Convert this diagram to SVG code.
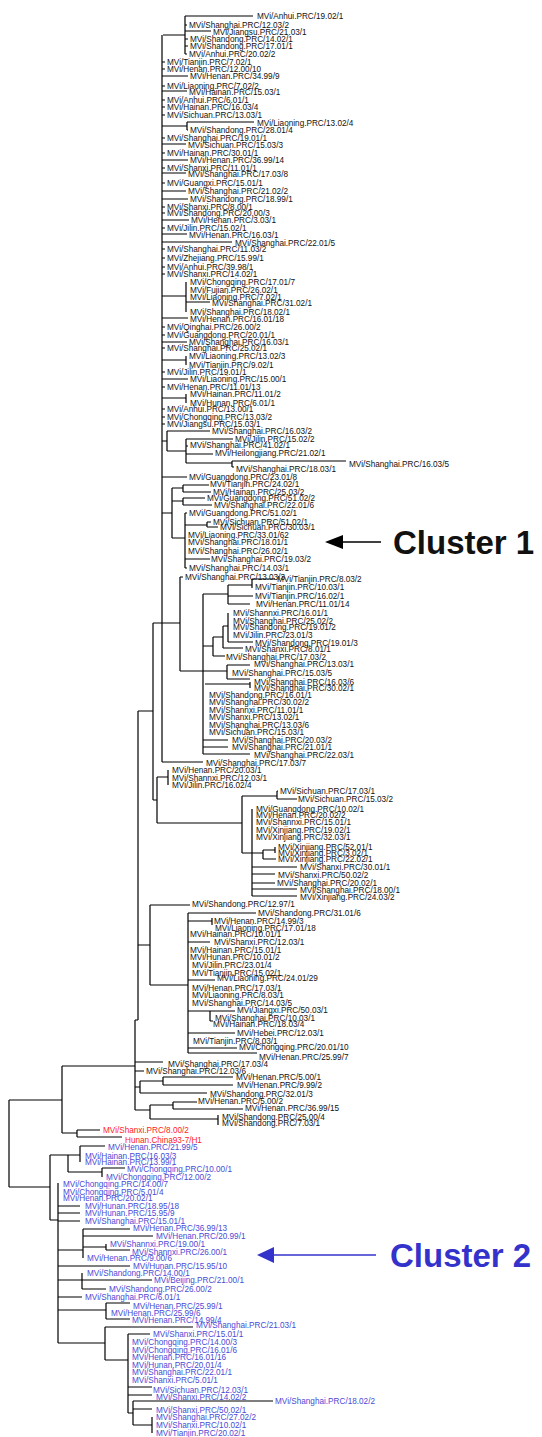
<svg xmlns="http://www.w3.org/2000/svg" width="542" height="1437" viewBox="0 0 542 1437">
<style>
text{font-family:"Liberation Sans",Arial,sans-serif;font-size:8.2px;fill:#111}
.r{fill:#ff1a1a}
.b{fill:#4a4ad6}
.c{stroke:#000;stroke-width:1.2;fill:none}
.cl{font-size:33px;font-weight:bold}
</style>
<rect width="542" height="1437" fill="#fff"/>
<g id="connectors" class="c">
<path d="M185 16V54M163 35H185M185 16H253M185 25H187M185 31H211M185 39H188M185 46H188M185 54H187"/>
<path d="M162 35V762M162 62H165M162 69H165M162 86H165M162 100H165M162 107H165M162 115H165M162 138H165M162 153H165M162 168H165M162 183H165M162 207H165M162 213H165M162 228H165M162 249H165M162 258H165M162 267H165M162 274H165M162 327H165M162 335H165M162 348H165M162 372H165M162 387H165M162 409H165M162 417H165M162 424H165"/>
<path d="M162 76H188M162 91H187M162 144H186M162 160H188M162 173H186M162 191H186M162 199H188M162 220H189M162 234H187M162 242H232M162 318H188M162 342H187M162 379H188M162 477H187"/>
<path d="M162 126H187M187 122V130M187 122H254M187 130H188M162 296H186M186 282V312M186 302H210M162 360H186M186 356V365M162 398H186M186 394V403"/>
<path d="M162 441H167M167 431V451M167 431H210M167 451H186M186 439V463M186 439H233M186 446H188M186 454H213M186 463H232M232 461V467M232 461H346M232 467H234"/>
<path d="M183 485V492M183 485H209M183 492H211M183 498V505M183 498H205M183 505H212M172 488V538M172 488H183M172 501H183M172 538H185M185 513V568M185 513H187M185 525H207M207 522V527M207 522H211M207 527H218M185 559H210M185 568H187M162 513H172"/>
<path d="M162 623H180M180 577V671M180 577H183M180 671H227M203 594V754M203 594H228M228 585V604M228 585H252M252 579V588M252 579H275M228 596H253M228 604H250M203 646H213M213 637V656M213 637H223M223 626V648M223 626H228M228 613V642M228 642H253M223 648H243M213 656H225M227 665V679M227 665H250M227 679H250M205 684H250M250 682V688M203 740H228M203 747H228M203 754H250M162 762H203"/>
<path d="M153 623V800M153 623H162M153 800H157M157 777V823M157 777H168M168 770V785M157 823H242M242 796V853M242 796H277M277 791V799M277 791H278M277 799H297M242 853H252M252 809V896M252 853H263M263 850V859M263 850H275M275 847V853M263 859H276M252 867H297M252 874H275M252 883H275M252 889H297M252 896H297"/>
<path d="M138 711V1020M138 711H153M138 945H150M150 905V985M150 905H190M150 985H188M188 913V1053M188 913H256M188 921H212M212 918V925M188 942H210M188 980H215M188 1011H210M210 1011V1021M210 1011H235M210 1021H213M188 1033H235M188 1048H237M188 1053H257"/>
<path d="M135 1020V1110M135 1020H138M135 1062H163M135 1071H144M135 1087H140M140 1081V1093M140 1081H163M163 1077V1085M163 1077H233M163 1085H233M140 1093H207M135 1110H150M150 1105V1119M150 1105H173M173 1102V1109M173 1102H197M173 1109H243M150 1119H218M218 1115V1125"/>
<path d="M62 1066V1133M62 1066H135M62 1133H77M77 1130V1137M77 1130H100M77 1137H122M9 1100V1187M9 1100H62M9 1187H50"/>
<path d="M50 1155V1220M50 1155H68M68 1155V1172M68 1155H80M80 1146V1162M80 1146H105M68 1172H102M102 1168V1177M102 1168H125M50 1220H58M58 1183V1343M58 1206H80M58 1213H80M58 1221H80M58 1250H83M83 1229V1258M83 1229H130M83 1236H153M83 1247H106M106 1244V1250M106 1250H130M58 1266H130M58 1280H82M82 1273V1289M82 1280H152M82 1289H106M58 1297H82M58 1310H106M106 1303V1319M106 1303H130M106 1319H130M58 1343H105M105 1327V1360M105 1327H193M105 1360H128M128 1334V1413M128 1334H150M128 1387H152M128 1395H152M128 1413H133M133 1401V1425M133 1401H273M133 1409H152M133 1425H152M152 1417V1433"/>
</g>
<g id="cluster1">
<path d="M342 542H381" stroke="#000" stroke-width="1.5"/>
<polygon points="325,542 343,535 343,549" fill="#000"/>
<text class="cl" x="393" y="554">Cluster 1</text>
</g>
<g id="cluster2">
<path d="M273 1255H376" stroke="#3333cc" stroke-width="1.5"/>
<polygon points="257,1255 274,1247 274,1263" fill="#3333cc"/>
<text class="cl" x="390" y="1267" style="fill:#3333cc">Cluster 2</text>
</g>
<g id="leaves">
<g id="n1"><text x="257" y="19">MVi/Anhui.PRC/19.02/1</text></g>
<g id="n2"><text x="189" y="28">MVi/Shanghai.PRC/12.03/2</text></g>
<g id="n3"><text x="213" y="35">MVi/Jiangsu.PRC/21.03/1</text></g>
<g id="n4"><text x="190" y="42">MVi/Shandong.PRC/14.02/1</text></g>
<g id="n5"><text x="190" y="49">MVi/Shandong.PRC/17.01/1</text></g>
<g id="n6"><text x="189" y="57">MVi/Anhui.PRC/20.02/2</text></g>
<g id="n7"><text x="167" y="65">MVi/Tianjin.PRC/7.02/1</text></g>
<g id="n8"><text x="167" y="72">MVi/Henan.PRC/12.00/10</text></g>
<g id="n9"><text x="190" y="79">MVi/Henan.PRC/34.99/9</text></g>
<g id="n10"><text x="167" y="89">MVi/Liaoning.PRC/7.02/2</text></g>
<g id="n11"><text x="189" y="95">MVi/Hainan.PRC/15.03/1</text></g>
<g id="n12"><text x="167" y="103">MVi/Anhui.PRC/6.01/1</text></g>
<g id="n13"><text x="167" y="110">MVi/Hainan.PRC/16.03/4</text></g>
<g id="n14"><text x="167" y="118">MVi/Sichuan.PRC/13.03/1</text></g>
<g id="n15"><text x="257" y="126">MVi/Liaoning.PRC/13.02/4</text></g>
<g id="n16"><text x="190" y="133">MVi/Shandong.PRC/28.01/4</text></g>
<g id="n17"><text x="167" y="141">MVi/Shanghai.PRC/19.01/1</text></g>
<g id="n18"><text x="188" y="148">MVi/Sichuan.PRC/15.03/3</text></g>
<g id="n19"><text x="167" y="156">MVi/Hainan.PRC/30.01/1</text></g>
<g id="n20"><text x="190" y="163">MVi/Henan.PRC/36.99/14</text></g>
<g id="n21"><text x="167" y="171">MVi/Shanxi.PRC/11.01/1</text></g>
<g id="n22"><text x="188" y="177">MVi/Shanghai.PRC/17.03/8</text></g>
<g id="n23"><text x="167" y="186">MVi/Guangxi.PRC/15.01/1</text></g>
<g id="n24"><text x="188" y="194">MVi/Shanghai.PRC/21.02/2</text></g>
<g id="n25"><text x="190" y="202">MVi/Shandong.PRC/18.99/1</text></g>
<g id="n26"><text x="167" y="210">MVi/Shanxi.PRC/8.00/1</text></g>
<g id="n27"><text x="167" y="216">MVi/Shandong.PRC/20.00/3</text></g>
<g id="n28"><text x="191" y="223">MVi/Henan.PRC/3.03/1</text></g>
<g id="n29"><text x="167" y="231">MVi/Jilin.PRC/15.02/1</text></g>
<g id="n30"><text x="189" y="238">MVi/Henan.PRC/16.03/1</text></g>
<g id="n31"><text x="235" y="246">MVi/Shanghai.PRC/22.01/5</text></g>
<g id="n32"><text x="167" y="252">MVi/Shanghai.PRC/11.03/2</text></g>
<g id="n33"><text x="167" y="261">MVi/Zhejiang.PRC/15.99/1</text></g>
<g id="n34"><text x="167" y="270">MVi/Anhui.PRC/39.98/1</text></g>
<g id="n35"><text x="167" y="277">MVi/Shanxi.PRC/14.02/1</text></g>
<g id="n36"><text x="190" y="285">MVi/Chongqing.PRC/17.01/7</text></g>
<g id="n37"><text x="190" y="293">MVi/Fujian.PRC/26.02/1</text></g>
<g id="n38"><text x="190" y="300">MVi/Liaoning.PRC/7.02/1</text></g>
<g id="n39"><text x="212" y="306">MVi/Shanghai.PRC/31.02/1</text></g>
<g id="n40"><text x="190" y="315">MVi/Shanghai.PRC/18.02/1</text></g>
<g id="n41"><text x="190" y="322">MVi/Henan.PRC/16.01/18</text></g>
<g id="n42"><text x="167" y="330">MVi/Qinghai.PRC/26.00/2</text></g>
<g id="n43"><text x="167" y="338">MVi/Guangdong.PRC/20.01/1</text></g>
<g id="n44"><text x="189" y="345">MVi/Shanghai.PRC/16.03/1</text></g>
<g id="n45"><text x="167" y="351">MVi/Shanghai.PRC/25.02/1</text></g>
<g id="n46"><text x="189" y="359">MVi/Liaoning.PRC/13.02/3</text></g>
<g id="n47"><text x="189" y="368">MVi/Tianjin.PRC/9.02/1</text></g>
<g id="n48"><text x="167" y="375">MVi/Jilin.PRC/19.01/1</text></g>
<g id="n49"><text x="190" y="382">MVi/Liaoning.PRC/15.00/1</text></g>
<g id="n50"><text x="167" y="390">MVi/Henan.PRC/11.01/13</text></g>
<g id="n51"><text x="190" y="397">MVi/Hainan.PRC/11.01/2</text></g>
<g id="n52"><text x="190" y="406">MVi/Hunan.PRC/6.01/1</text></g>
<g id="n53"><text x="167" y="412">MVi/Anhui.PRC/13.00/1</text></g>
<g id="n54"><text x="167" y="420">MVi/Chongqing.PRC/13.03/2</text></g>
<g id="n55"><text x="167" y="427">MVi/Jiangsu.PRC/15.03/1</text></g>
<g id="n56"><text x="212" y="434">MVi/Shanghai.PRC/16.03/2</text></g>
<g id="n57"><text x="235" y="442">MVi/Jilin.PRC/15.02/2</text></g>
<g id="n58"><text x="190" y="448">MVi/Shanghai.PRC/41.02/1</text></g>
<g id="n59"><text x="215" y="456">MVi/Heilongjiang.PRC/21.02/1</text></g>
<g id="n60"><text x="349" y="467">MVi/Shanghai.PRC/16.03/5</text></g>
<g id="n61"><text x="236" y="472">MVi/Shanghai.PRC/18.03/1</text></g>
<g id="n62"><text x="189" y="480">MVi/Guangdong.PRC/23.01/8</text></g>
<g id="n63"><text x="210" y="487">MVi/Tianjin.PRC/24.02/1</text></g>
<g id="n64"><text x="213" y="495">MVi/Hainan.PRC/25.03/2</text></g>
<g id="n65"><text x="207" y="501">MVi/Guangdong.PRC/51.02/2</text></g>
<g id="n66"><text x="214" y="508">MVi/Shanghai.PRC/22.01/6</text></g>
<g id="n67"><text x="189" y="516">MVi/Guangdong.PRC/51.02/1</text></g>
<g id="n68"><text x="213" y="525">MVi/Sichuan.PRC/51.02/1</text></g>
<g id="n69"><text x="220" y="530">MVi/Sichuan.PRC/30.03/1</text></g>
<g id="n70"><text x="188" y="538">MVi/Liaoning.PRC/33.01/62</text></g>
<g id="n71"><text x="188" y="545">MVi/Shanghai.PRC/18.01/1</text></g>
<g id="n72"><text x="188" y="554">MVi/Shanghai.PRC/26.02/1</text></g>
<g id="n73"><text x="211" y="562">MVi/Shanghai.PRC/19.03/2</text></g>
<g id="n74"><text x="189" y="571">MVi/Shanghai.PRC/14.03/1</text></g>
<g id="n75"><text x="185" y="580">MVi/Shanghai.PRC/13.03/3</text></g>
<g id="n76"><text x="277" y="582">MVi/Tianjin.PRC/8.03/2</text></g>
<g id="n77"><text x="255" y="590">MVi/Tianjin.PRC/10.03/1</text></g>
<g id="n78"><text x="255" y="599">MVi/Tianjin.PRC/16.02/1</text></g>
<g id="n79"><text x="256" y="607">MVi/Henan.PRC/11.01/14</text></g>
<g id="n80"><text x="233" y="616">MVi/Shannxi.PRC/16.01/1</text></g>
<g id="n81"><text x="233" y="624">MVi/Shanghai.PRC/25.02/2</text></g>
<g id="n82"><text x="233" y="630">MVi/Shandong.PRC/19.01/2</text></g>
<g id="n83"><text x="233" y="638">MVi/Jilin.PRC/23.01/3</text></g>
<g id="n84"><text x="255" y="646">MVi/Shandong.PRC/19.01/3</text></g>
<g id="n85"><text x="245" y="652">MVi/Shanxi.PRC/8.01/1</text></g>
<g id="n86"><text x="226" y="660">MVi/Shanghai.PRC/17.03/2</text></g>
<g id="n87"><text x="254" y="667">MVi/Shanghai.PRC/13.03/1</text></g>
<g id="n88"><text x="232" y="676">MVi/Shanghai.PRC/15.03/5</text></g>
<g id="n89"><text x="254" y="685">MVi/Shanghai.PRC/16.03/6</text></g>
<g id="n90"><text x="254" y="691">MVi/Shanghai.PRC/30.02/1</text></g>
<g id="n91"><text x="209" y="698">MVi/Shandong.PRC/16.01/1</text></g>
<g id="n92"><text x="209" y="705">MVi/Shanghai.PRC/30.02/2</text></g>
<g id="n93"><text x="209" y="713">MVi/Shannxi.PRC/11.01/1</text></g>
<g id="n94"><text x="209" y="720">MVi/Shanxi.PRC/13.02/1</text></g>
<g id="n95"><text x="209" y="728">MVi/Shanghai.PRC/13.03/6</text></g>
<g id="n96"><text x="209" y="735">MVi/Sichuan.PRC/15.03/1</text></g>
<g id="n97"><text x="232" y="743">MVi/Shanghai.PRC/20.03/2</text></g>
<g id="n98"><text x="232" y="750">MVi/Shanghai.PRC/21.01/1</text></g>
<g id="n99"><text x="254" y="758">MVi/Shanghai.PRC/22.03/1</text></g>
<g id="n100"><text x="206" y="766">MVi/Shanghai.PRC/17.03/7</text></g>
<g id="n101"><text x="172" y="773">MVi/Henan.PRC/20.03/1</text></g>
<g id="n102"><text x="172" y="781">MVi/Shannxi.PRC/12.03/1</text></g>
<g id="n103"><text x="172" y="788">MVi/Jilin.PRC/16.02/4</text></g>
<g id="n104"><text x="280" y="794">MVi/Sichuan.PRC/17.03/1</text></g>
<g id="n105"><text x="298" y="802">MVi/Sichuan.PRC/15.03/2</text></g>
<g id="n106"><text x="256" y="812">MVi/Guangdong.PRC/10.02/1</text></g>
<g id="n107"><text x="256" y="818">MVi/Henan.PRC/20.02/2</text></g>
<g id="n108"><text x="256" y="825">MVi/Shannxi.PRC/15.01/1</text></g>
<g id="n109"><text x="256" y="833">MVi/Xinjiang.PRC/19.02/1</text></g>
<g id="n110"><text x="256" y="840">MVi/Xinjiang.PRC/32.03/1</text></g>
<g id="n111"><text x="278" y="850">MVi/Xinjiang.PRC/52.01/1</text></g>
<g id="n112"><text x="278" y="856">MVi/Xinjiang.PRC/3.02/1</text></g>
<g id="n113"><text x="278" y="862">MVi/Xinjiang.PRC/22.02/1</text></g>
<g id="n114"><text x="300" y="870">MVi/Shanxi.PRC/30.01/1</text></g>
<g id="n115"><text x="278" y="878">MVi/Shanxi.PRC/50.02/2</text></g>
<g id="n116"><text x="277" y="886">MVi/Shanghai.PRC/20.02/1</text></g>
<g id="n117"><text x="300" y="893">MVi/Shanghai.PRC/18.00/1</text></g>
<g id="n118"><text x="300" y="900">MVi/Xinjiang.PRC/24.03/2</text></g>
<g id="n119"><text x="192" y="907">MVi/Shandong.PRC/12.97/1</text></g>
<g id="n120"><text x="258" y="916">MVi/Shandong.PRC/31.01/6</text></g>
<g id="n121"><text x="214" y="924">MVi/Henan.PRC/14.99/3</text></g>
<g id="n122"><text x="215" y="931">MVi/Liaoning.PRC/17.01/18</text></g>
<g id="n123"><text x="190" y="937">MVi/Hainan.PRC/10.01/1</text></g>
<g id="n124"><text x="214" y="945">MVi/Shanxi.PRC/12.03/1</text></g>
<g id="n125"><text x="190" y="953">MVi/Hainan.PRC/15.01/1</text></g>
<g id="n126"><text x="190" y="960">MVi/Hunan.PRC/10.01/2</text></g>
<g id="n127"><text x="192" y="968">MVi/Jilin.PRC/23.01/4</text></g>
<g id="n128"><text x="192" y="976">MVi/Tianjin.PRC/15.02/1</text></g>
<g id="n129"><text x="217" y="981">MVi/Liaoning.PRC/24.01/29</text></g>
<g id="n130"><text x="192" y="991">MVi/Henan.PRC/17.03/1</text></g>
<g id="n131"><text x="192" y="998">MVi/Liaoning.PRC/8.03/1</text></g>
<g id="n132"><text x="192" y="1006">MVi/Shanghai.PRC/14.03/5</text></g>
<g id="n133"><text x="237" y="1013">MVi/Jiangxi.PRC/50.03/1</text></g>
<g id="n134"><text x="215" y="1021">MVi/Shanghai.PRC/10.03/1</text></g>
<g id="n135"><text x="213" y="1027">MVi/Hainan.PRC/18.03/4</text></g>
<g id="n136"><text x="237" y="1036">MVi/Hebei.PRC/12.03/1</text></g>
<g id="n137"><text x="193" y="1044">MVi/Tianjin.PRC/8.03/1</text></g>
<g id="n138"><text x="239" y="1050">MVi/Chongqing.PRC/20.01/10</text></g>
<g id="n139"><text x="259" y="1060">MVi/Henan.PRC/25.99/7</text></g>
<g id="n140"><text x="168" y="1067">MVi/Shanghai.PRC/17.03/4</text></g>
<g id="n141"><text x="146" y="1074">MVi/Shanghai.PRC/12.03/6</text></g>
<g id="n142"><text x="236" y="1080">MVi/Henan.PRC/5.00/1</text></g>
<g id="n143"><text x="237" y="1088">MVi/Henan.PRC/9.99/2</text></g>
<g id="n144"><text x="210" y="1097">MVi/Shandong.PRC/32.01/3</text></g>
<g id="n145"><text x="198" y="1104">MVi/Henan.PRC/5.00/2</text></g>
<g id="n146"><text x="245" y="1111">MVi/Henan.PRC/36.99/15</text></g>
<g id="n147"><text x="222" y="1120">MVi/Shandong.PRC/25.00/4</text></g>
<g id="n148"><text x="222" y="1126">MVi/Shandong.PRC/7.03/1</text></g>
<g id="n149"><text class="r" x="103" y="1133">MVi/Shanxi.PRC/8.00/2</text></g>
<g id="n150"><text class="r" x="125" y="1143">Hunan.China93-7/H1</text></g>
<g id="n151"><text class="b" x="108" y="1150">MVi/Henan.PRC/21.99/5</text></g>
<g id="n152"><text class="b" x="85" y="1159">MVi/Hainan.PRC/16.03/3</text></g>
<g id="n153"><text class="b" x="85" y="1165">MVi/Hainan.PRC/13.99/1</text></g>
<g id="n154"><text class="b" x="127" y="1172">MVi/Chongqing.PRC/10.00/1</text></g>
<g id="n155"><text class="b" x="106" y="1180">MVi/Chongqing.PRC/12.00/2</text></g>
<g id="n156"><text class="b" x="63" y="1187">MVi/Chongqing.PRC/14.00/7</text></g>
<g id="n157"><text class="b" x="63" y="1195">MVi/Chongqing.PRC/5.01/4</text></g>
<g id="n158"><text class="b" x="63" y="1201">MVi/Henan.PRC/20.02/1</text></g>
<g id="n159"><text class="b" x="85" y="1209">MVi/Hunan.PRC/18.95/18</text></g>
<g id="n160"><text class="b" x="85" y="1216">MVi/Hunan.PRC/15.95/9</text></g>
<g id="n161"><text class="b" x="85" y="1224">MVi/Shanghai.PRC/15.01/1</text></g>
<g id="n162"><text class="b" x="133" y="1231">MVi/Henan.PRC/36.99/13</text></g>
<g id="n163"><text class="b" x="156" y="1239">MVi/Henan.PRC/20.99/1</text></g>
<g id="n164"><text class="b" x="110" y="1247">MVi/Shannxi.PRC/19.00/1</text></g>
<g id="n165"><text class="b" x="132" y="1255">MVi/Shannxi.PRC/26.00/1</text></g>
<g id="n166"><text class="b" x="87" y="1261">MVi/Henan.PRC/9.00/6</text></g>
<g id="n167"><text class="b" x="133" y="1269">MVi/Hunan.PRC/15.95/10</text></g>
<g id="n168"><text class="b" x="87" y="1276">MVi/Shandong.PRC/14.00/1</text></g>
<g id="n169"><text class="b" x="154" y="1283">MVi/Beijing.PRC/21.00/1</text></g>
<g id="n170"><text class="b" x="109" y="1292">MVi/Shandong.PRC/26.00/2</text></g>
<g id="n171"><text class="b" x="85" y="1300">MVi/Shanghai.PRC/6.01/1</text></g>
<g id="n172"><text class="b" x="133" y="1309">MVi/Henan.PRC/25.99/1</text></g>
<g id="n173"><text class="b" x="111" y="1316">MVi/Henan.PRC/25.99/6</text></g>
<g id="n174"><text class="b" x="132" y="1323">MVi/Henan.PRC/14.99/4</text></g>
<g id="n175"><text class="b" x="196" y="1328">MVi/Shanghai.PRC/21.03/1</text></g>
<g id="n176"><text class="b" x="153" y="1337">MVi/Shanxi.PRC/15.01/1</text></g>
<g id="n177"><text class="b" x="132" y="1345">MVi/Chongqing.PRC/14.00/3</text></g>
<g id="n178"><text class="b" x="132" y="1353">MVi/Chongqing.PRC/16.01/6</text></g>
<g id="n179"><text class="b" x="132" y="1360">MVi/Henan.PRC/16.01/16</text></g>
<g id="n180"><text class="b" x="132" y="1368">MVi/Hunan.PRC/20.01/4</text></g>
<g id="n181"><text class="b" x="132" y="1375">MVi/Shanghai.PRC/22.01/1</text></g>
<g id="n182"><text class="b" x="132" y="1383">MVi/Shanxi.PRC/5.01/1</text></g>
<g id="n183"><text class="b" x="153" y="1393">MVi/Sichuan.PRC/12.03/1</text></g>
<g id="n184"><text class="b" x="156" y="1400">MVi/Shanxi.PRC/14.02/2</text></g>
<g id="n185"><text class="b" x="275" y="1404">MVi/Shanghai.PRC/18.02/2</text></g>
<g id="n186"><text class="b" x="156" y="1413">MVi/Shanxi.PRC/50.02/1</text></g>
<g id="n187"><text class="b" x="156" y="1420">MVi/Shanghai.PRC/27.02/2</text></g>
<g id="n188"><text class="b" x="156" y="1428">MVi/Shanxi.PRC/10.02/1</text></g>
<g id="n189"><text class="b" x="156" y="1436">MVi/Tianjin.PRC/20.02/1</text></g>
</g>
</svg>
